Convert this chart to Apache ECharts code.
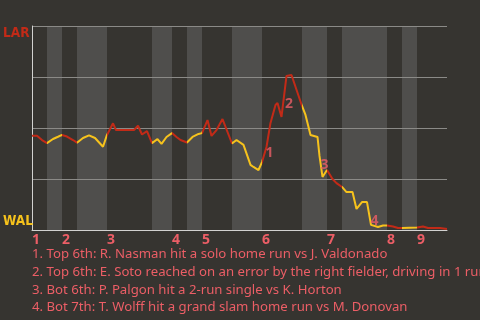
<!DOCTYPE html>
<html><head><meta charset="utf-8">
<script src="https://cdn.jsdelivr.net/npm/echarts@6/dist/echarts.min.js"></script>
<style>html,body{margin:0;padding:0;background:#363430;}#c{width:480px;height:320px;}</style>
</head><body><div id="c"></div>
<script>
// ---- data ----
const teams = ['WAL', 'LAR'];                 // 0% = WAL wins, 100% = LAR wins
const innings = ['1','2','3','4','5','6','7','8','9'];
const inningStarts = [0, 6, 15, 28, 34, 46, 59, 71, 77];
const halfInningBounds = [0, 3, 6, 9, 15, 24, 28, 31, 34, 40, 46, 54, 59, 62, 71, 74, 77, 83];
const eventIndex = [0,1,2,3,4.2,5.2,6,7,8.2,9,10.2,11.4,12.6,14.2,15,16.2,16.8,20.4,21.2,22,23,24,25.1,25.9,26.9,28,28.9,29.7,31,32.1,33.3,34,35.1,35.9,36.9,38.1,40,40.9,42.3,43.7,44.3,45.3,46,46.9,47.7,48.7,49.1,49.9,50.9,51.9,54,54.7,55.7,57.1,57.5,58.1,59,60.1,60.9,62,62.9,64.1,64.9,66,67,67.8,69.2,70.2,71,72.2,73.2,74,77,78.2,79.2,81.6,82,83];
const larWinProb = [46.2,46.2,44.1,42.6,44.6,45.7,46.6,45.8,44.1,42.8,45.1,46.4,45.1,40.8,46.6,52.3,49.0,49.0,51.1,46.8,48.5,42.6,44.6,42.2,45.6,47.5,45.6,44.1,42.9,45.6,47.1,47.5,53.9,46.1,49.0,54.4,42.4,44.1,41.7,31.9,30.9,29.4,33.3,40.7,52.5,61.3,62.3,55.4,75.5,76.0,60.8,56.4,46.6,45.6,36.3,26.0,29.4,25.0,23.0,21.1,18.6,18.6,10.3,13.7,13.7,2.5,1.5,2.2,2.2,1.7,1.0,1.0,1.2,1.7,1.0,1.0,0.5,0.5];
const playPoints = [43, 48, 55, 65];
const plays = [
  '1. Top 6th: R. Nasman hit a solo home run vs J. Valdonado',
  '2. Top 6th: E. Soto reached on an error by the right fielder, driving in 1 run',
  '3. Bot 6th: P. Palgon hit a 2-run single vs K. Horton',
  '4. Bot 7th: T. Wolff hit a grand slam home run vs M. Donovan'
];

// ---- styles ----
const RED = '#c22a17', YELLOW = '#f6c21c', PINK = '#ec5e66', BAND = '#4f4e4c';
const FONT = 'Noto Sans';
const TEAMFONT = '"Liberation Sans Narrow", "DejaVu Sans Condensed", "Noto Sans", sans-serif';

const lineData = eventIndex.map((x, i) => [x, larWinProb[i]]);
const pieces = [];
for (let i = 0; i < halfInningBounds.length - 1; i++) {
  const p = { gte: halfInningBounds[i], color: i % 2 === 0 ? RED : YELLOW };
  if (i < halfInningBounds.length - 2) p.lt = halfInningBounds[i + 1]; else p.lte = halfInningBounds[i + 1];
  pieces.push(p);
}
const bands = [];
for (let i = 1; i < halfInningBounds.length - 1; i += 2) bands.push([halfInningBounds[i], halfInningBounds[i + 1]]);
const labelOffsets = [[3, 6], [2.5, 28], [2, -12], [3.5, -4]];
const playData = playPoints.map((p, k) => ({
  value: [eventIndex[p], larWinProb[p]],
  label: { offset: labelOffsets[k], formatter: String(k + 1) }
}));

const chart = echarts.init(document.getElementById('c'), null, { renderer: 'canvas' });
chart.setOption({
  backgroundColor: '#363430',
  animation: false,
  grid: { left: 31, right: 33, top: 26, bottom: 90, containLabel: false },
  xAxis: {
    type: 'value', min: 0, max: halfInningBounds[halfInningBounds.length - 1], z: 3,
    splitLine: { show: false },
    axisTick: { show: false },
    axisLine: { show: true, lineStyle: { color: '#d2d2d0', width: 1 } },
    axisLabel: {
      customValues: inningStarts,
      formatter: v => innings[inningStarts.indexOf(v)],
      align: 'left', margin: 3, color: PINK, fontWeight: 'bold', fontSize: 14, fontFamily: FONT
    }
  },
  yAxis: {
    type: 'value', min: 0, max: 100, interval: 25, z: 3,
    splitLine: { show: true, lineStyle: { color: '#8b8a87', width: 1 } },
    axisTick: { show: false },
    axisLine: { show: true, lineStyle: { color: '#d2d2d0', width: 1 } },
    axisLabel: {
      customValues: [0, 100],
      formatter: v => v === 100 ? '{lar|' + teams[1] + '}' : '{wal|' + teams[0] + '}',
      align: 'left', margin: 29,
      rich: {
        lar: { color: RED, fontWeight: 'bold', fontSize: 13.5, fontFamily: TEAMFONT, padding: [14, 0, 0, 0] },
        wal: { color: YELLOW, fontWeight: 'bold', fontSize: 13.5, fontFamily: TEAMFONT, padding: [0, 0, 17, 0] }
      }
    }
  },
  visualMap: { show: false, type: 'piecewise', dimension: 0, seriesIndex: 1, pieces: pieces },
  series: [
    {
      type: 'custom', z: 1, silent: true, data: bands, encode: { x: [0, 1] },
      renderItem: (params, api) => {
        const a = api.coord([api.value(0), 100]);
        const b = api.coord([api.value(1), 0]);
        return { type: 'rect', shape: { x: a[0], y: a[1], width: b[0] - a[0], height: b[1] - a[1] }, style: { fill: BAND } };
      }
    },
    {
      type: 'line', z: 5, data: lineData, symbol: 'none', lineStyle: { width: 2 }
    },
    {
      type: 'scatter', z: 6, data: playData, symbolSize: 0,
      label: { show: true, position: 'inside', color: PINK, fontWeight: 'bold', fontSize: 14, fontFamily: FONT }
    }
  ],
  graphic: plays.map((t, i) => ({
    type: 'text', x: 32, y: 254 + i * 17.9,
    style: { text: t, fill: PINK, font: '13.2px "' + FONT + '"', verticalAlign: 'middle' }
  }))
});
</script></body></html>
